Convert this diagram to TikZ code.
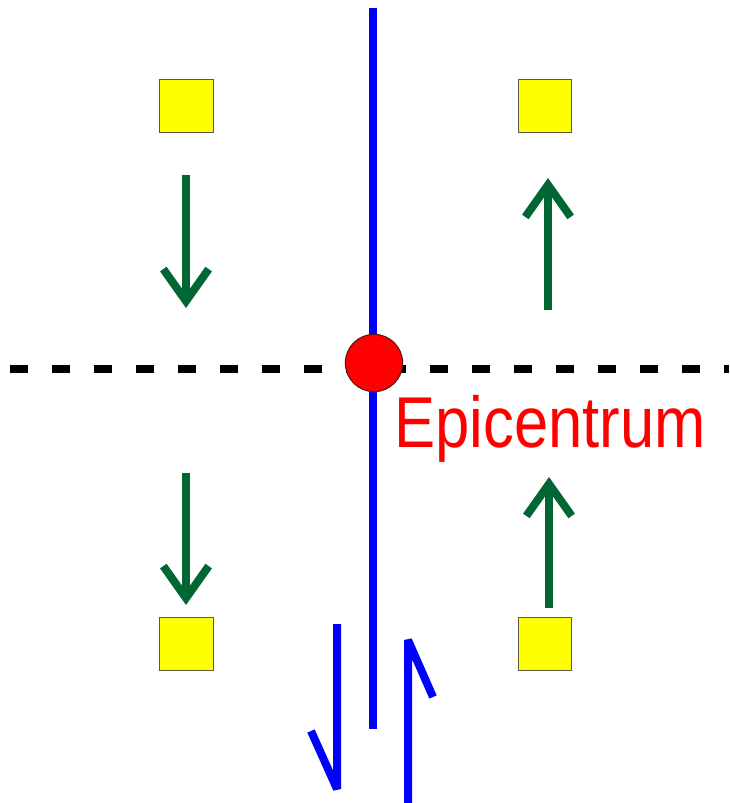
\documentclass[tikz,border=0pt]{standalone}
\usepackage{fontspec}
\setmainfont{Liberation Sans}
\usetikzlibrary{arrows.meta}

\tikzset{
  station/.style={draw={rgb, 255:red, 90; green, 90; blue, 60}, fill={rgb, 255:red, 255; green, 255; blue, 0}, line width=0.75pt, minimum size=40pt, inner sep=0pt},
  motion/.style={color={rgb, 255:red, 0; green, 102; blue, 51}, line width=6pt, -{Straight Barb[length=24pt,width=34pt]}},
  fault/.style={color={rgb, 255:red, 0; green, 0; blue, 255}, line width=6pt, line join=bevel}
}

\begin{document}
\begin{tikzpicture}[x=0.75pt,y=0.75pt,yscale=-1,xscale=1]
\path[use as bounding box] (0,0) rectangle (729,803);

%Straight Lines [dashed trace]
\draw [line width=6pt, dash pattern={on 13.5pt off 18pt}] (10,369) -- (729,369) ;
%Straight Lines [fault]
\draw [fault] (373,8) -- (373,729) ;
%Half arrows
\draw [fault] (311,731) -- (337,789) -- (337,624) ;
\draw [fault] (408,803) -- (408,640) -- (433,697) ;

%Shape: Squares
\node [station] (nw) at (186.5,106) {};
\node [station] (ne) at (545,106) {};
\node [station] (sw) at (186.5,644) {};
\node [station] (se) at (545,644) {};

%Arrows
\coordinate (a1) at (186,175); \coordinate (b1) at (186,308);
\coordinate (a2) at (186,473); \coordinate (b2) at (186,605);
\coordinate (a3) at (548,310); \coordinate (b3) at (548,178);
\coordinate (a4) at (549,608); \coordinate (b4) at (549,477);
\draw [motion] (a1) -- (b1) ;
\draw [motion] (a2) -- (b2) ;
\draw [motion] (a3) -- (b3) ;
\draw [motion] (a4) -- (b4) ;

%Shape: Circle
\node [circle, draw={rgb, 255:red, 80; green, 20; blue, 20}, fill={rgb, 255:red, 255; green, 0; blue, 0}, line width=0.75pt, minimum size=43pt, inner sep=0pt] (epi) at (374,363) {};

% Text Node
\draw (394,447) node [anchor=base west][inner sep=0pt] [color={rgb, 255:red, 255; green, 0; blue, 0}, font=\fontsize{54}{54}\selectfont] (lbl) {\scalebox{0.855}[1]{Epicentrum}};

\end{tikzpicture}
\end{document}
